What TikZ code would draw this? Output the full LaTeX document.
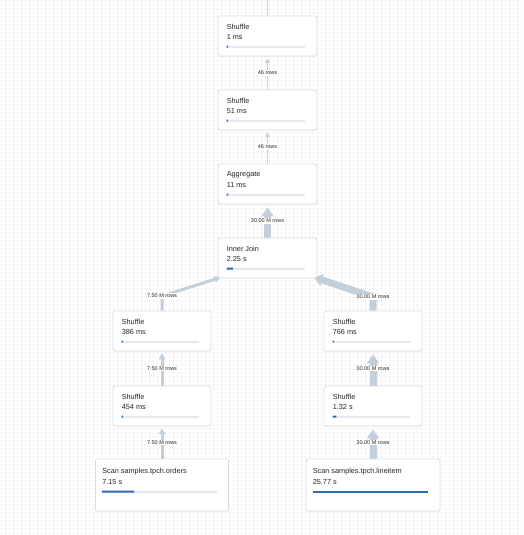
\documentclass[tikz,border=0pt]{standalone}
\usepackage{fontspec}
\setmainfont{Liberation Sans}
\usetikzlibrary{arrows.meta,calc,shadows}
\definecolor{arr}{HTML}{C3CFDB}
\definecolor{dotc}{HTML}{E8EBEF}
\definecolor{boxb}{HTML}{D8DDE3}
\definecolor{barbg}{HTML}{E5E9EE}
\definecolor{barfg}{HTML}{2C6DB2}
\definecolor{txt}{HTML}{262626}
\pgfdeclarelayer{gridlayer}
\pgfdeclarelayer{edgelayer}
\pgfsetlayers{gridlayer,edgelayer,main}
\tikzset{
  opbox/.style={draw=boxb, fill=white, line width=0.8pt, rounded corners=2pt, inner sep=0pt,
    drop shadow={opacity=0.06, shadow xshift=0pt, shadow yshift=-1pt}},
  optitle/.style={anchor=west, inner sep=0pt, font=\fontsize{7.3}{8}\selectfont, text=txt},
  lbl/.style={fill=white, inner sep=1pt, font=\fontsize{5.5}{6}\selectfont, text=txt},
  thinarr/.style={draw=arr, line width=1pt, -{Triangle[width=4.5pt,length=4.5pt]}, shorten >=2pt},
  medarr/.style={draw=arr, line width=3pt, -{Triangle[width=6.5pt,length=6pt]}, shorten >=2pt},
  thickarr/.style={draw=arr, line width=7pt, -{Triangle[width=12pt,length=9pt]}, shorten >=3pt},
  barbgs/.style={draw=barbg, line width=2pt},
  barfgs/.style={draw=barfg, line width=2pt},
}
\def\ins{9}\def\toff{11}
\newcommand\opnode[8]{%
  \node[opbox, minimum width=#4pt, minimum height=#5pt] (#1) at (#2,#3) {};
  \node[optitle] (#1-t) at ($(#1.north west)+(\ins,\toff)$) {#6};
  \node[optitle] (#1-d) at ($(#1.north west)+(\ins,\toff+10)$) {#7};
  \coordinate (#1-b0) at ($(#1.north west)+(\ins,\toff+20)$);
  \coordinate (#1-b1) at ($(#1.north east)+(-12,\toff+20)$);
  \draw[barbgs] (#1-b0) -- (#1-b1);
  \draw[barfgs] (#1-b0) -- ($(#1-b0)!#8!(#1-b1)$);
}
\begin{document}
\begin{tikzpicture}[x=1pt,y=-1pt]
\useasboundingbox (0,0) rectangle (524,535);
\begin{pgfonlayer}{gridlayer}
  \fill[white] (0,0) rectangle (524,535);
  \foreach \yy in {1,5,...,535}
    \draw[dotc, line width=1.1pt, dash pattern=on 1.1pt off 2.9pt] (0.5,\yy) -- (524,\yy);
\end{pgfonlayer}

\opnode{s1}{267.5}{36}{99}{40}{Shuffle}{1 ms}{0.02}
\opnode{s2}{267.5}{110}{99}{40}{Shuffle}{51 ms}{0.02}
\opnode{agg}{267.5}{184}{99}{40}{Aggregate}{11 ms}{0.02}
\opnode{join}{267.5}{258}{99}{40}{Inner Join}{2.25 s}{0.08}
\opnode{sL1}{162}{331}{98}{40}{Shuffle}{386 ms}{0.02}
\opnode{sR1}{373}{331}{98}{40}{Shuffle}{766 ms}{0.02}
\opnode{sL2}{162}{406}{98}{40}{Shuffle}{454 ms}{0.02}
\opnode{sR2}{373}{406}{98}{40}{Shuffle}{1.32 s}{0.05}
\def\ins{7}\def\toff{13}
\opnode{scanL}{162}{485}{133}{52}{Scan samples.tpch.orders}{7.15 s}{0.28}
\opnode{scanR}{373}{485}{134}{52}{Scan samples.tpch.lineitem}{25.77 s}{1}

\coordinate (topc) at (267.5,-14);
\coordinate (bL) at (162,296);
\coordinate (bR) at (373,297);
\begin{pgfonlayer}{edgelayer}
  \draw[thinarr] (s1.north) -- (topc);
  \node[lbl] (toplbl) at (267.5,-2.5) {46 rows};
  \draw[thinarr] (s2.north) -- node[lbl]{46 rows} (s1.south);
  \draw[thinarr] (agg.north) -- node[lbl]{46 rows} (s2.south);
  \draw[thickarr] (join.north) -- node[lbl]{30.00 M rows} (agg.south);
  \draw[medarr, shorten >=-3pt] (sL1.north) -- (bL) -- (join.south west);
  \node[lbl] (lblL) at (bL) {7.50 M rows};
  \draw[thickarr, shorten >=-4pt] (sR1.north) -- (bR) -- (join.south east);
  \node[lbl] (lblR) at (bR) {30.00 M rows};
  \draw[medarr] (sL2.north) -- node[lbl]{7.50 M rows} (sL1.south);
  \draw[thickarr] (sR2.north) -- node[lbl]{30.00 M rows} (sR1.south);
  \draw[medarr] (scanL.north) -- node[lbl]{7.50 M rows} (sL2.south);
  \draw[thickarr] (scanR.north) -- node[lbl]{30.00 M rows} (sR2.south);
\end{pgfonlayer}
\end{tikzpicture}
\end{document}
